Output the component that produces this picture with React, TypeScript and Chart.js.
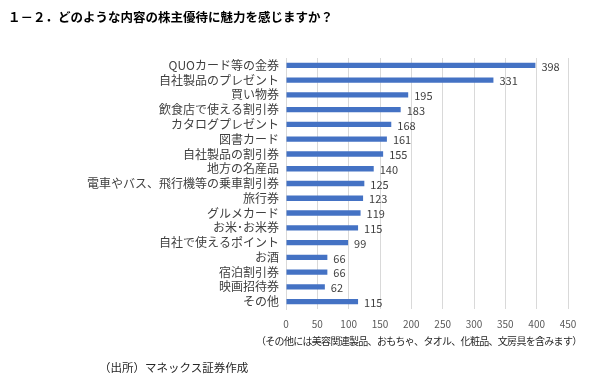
import React, { useEffect, useRef } from "react";
import { Chart, registerables } from "chart.js";

Chart.register(...registerables);

const categories = [
  "QUOカード等の金券",
  "自社製品のプレゼント",
  "買い物券",
  "飲食店で使える割引券",
  "カタログプレゼント",
  "図書カード",
  "自社製品の割引券",
  "地方の名産品",
  "電車やバス、飛行機等の乗車割引券",
  "旅行券",
  "グルメカード",
  "お米･お米券",
  "自社で使えるポイント",
  "お酒",
  "宿泊割引券",
  "映画招待券",
  "その他",
];
const values = [398, 331, 195, 183, 168, 161, 155, 140, 125, 123, 119, 115, 99, 66, 66, 62, 115];
const xTicks = [0, 50, 100, 150, 200, 250, 300, 350, 400, 450];

const title = "１－２．どのような内容の株主優待に魅力を感じますか？";
const note = "（その他には美容関連製品、おもちゃ、タオル、化粧品、文房具を含みます）";
const source = "（出所）マネックス証券作成";

const FONT = "'Noto Sans CJK JP', 'Noto Sans', sans-serif";

const labelPlugin = {
  id: "barValues",
  afterDatasetsDraw(chart: any) {
    const ctx = chart.ctx;
    const meta = chart.getDatasetMeta(0);
    ctx.save();
    ctx.font = `11px ${FONT}`;
    ctx.fillStyle = "#404040";
    ctx.textAlign = "left";
    ctx.textBaseline = "middle";
    meta.data.forEach((bar: any, i: number) => {
      ctx.fillText(String(values[i]), bar.x + 6, bar.y + 1);
    });
    ctx.restore();
  },
};

export default function App() {
  const ref = useRef<HTMLCanvasElement>(null);
  useEffect(() => {
    if (!ref.current) return;
    const chart = new Chart(ref.current, {
      type: "bar",
      data: {
        labels: categories,
        datasets: [
          {
            data: values,
            backgroundColor: "#4472C4",
            barPercentage: 0.36,
            categoryPercentage: 1,
          },
        ],
      },
      options: {
        indexAxis: "y",
        animation: false,
        responsive: false,
        devicePixelRatio: 1,
        layout: { padding: { left: 0, right: 32, top: 58, bottom: 45 } },
        plugins: { legend: { display: false }, tooltip: { enabled: false } },
        scales: {
          x: {
            min: 0,
            max: 450,
            afterBuildTicks: (s: any) => {
              s.ticks = xTicks.map((v) => ({ value: v }));
            },
            afterFit: (s: any) => {
              s.height = 25;
            },
            grid: { color: "#d9d9d9", drawTicks: false },
            border: { display: false },
            ticks: {
              color: "#595959",
              font: { family: FONT, size: 10 },
              padding: 9,
              maxRotation: 0,
              autoSkip: false,
            },
          },
          y: {
            afterFit: (s: any) => {
              s.width = 286;
            },
            grid: { display: false, drawTicks: false },
            border: { display: true, color: "#d9d9d9" },
            ticks: {
              color: "#404040",
              font: { family: FONT, size: 12 },
              padding: 7,
              autoSkip: false,
            },
          },
        },
      },
      plugins: [labelPlugin],
    });
    return () => chart.destroy();
  }, []);

  return (
    <div style={{ position: "absolute", left: 0, top: 0, width: 600, height: 379, background: "#fff" }}>
      <canvas ref={ref} width={600} height={379} style={{ position: "absolute", left: 0, top: 0 }} />
      <div
        style={{
          position: "absolute",
          left: 8,
          top: 7,
          fontFamily: "'Noto Sans CJK JP', serif",
          fontSize: 12.5,
          fontWeight: 600,
          color: "#000",
          whiteSpace: "nowrap",
          lineHeight: "20px",
        }}
      >
        {title}
      </div>
      <div
        style={{
          position: "absolute",
          left: 256,
          top: 333,
          fontFamily: FONT,
          fontSize: 10,
          letterSpacing: -0.7,
          color: "#262626",
          whiteSpace: "nowrap",
          lineHeight: "16px",
        }}
      >
        {note}
      </div>
      <div
        style={{
          position: "absolute",
          left: 99,
          top: 358,
          fontFamily: FONT,
          fontSize: 11.5,
          color: "#262626",
          whiteSpace: "nowrap",
          lineHeight: "18px",
        }}
      >
        {source}
      </div>
    </div>
  );
}
